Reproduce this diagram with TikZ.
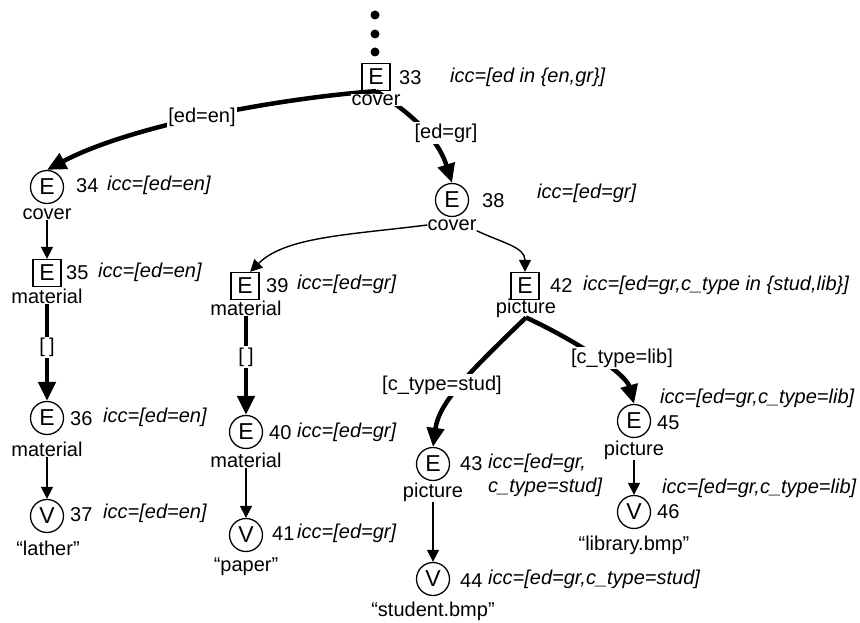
\documentclass[tikz,border=0pt]{standalone}
\usepackage{fontspec}
\setmainfont{Liberation Sans}
\usetikzlibrary{arrows.meta,backgrounds}
\begin{document}
\begin{tikzpicture}[x=1pt,y=-1pt,
  every node/.style={inner sep=0pt},
  glyph/.style={font=\fontsize{23}{26}\selectfont},
  ebox/.style={glyph, draw, line width=1.3pt, minimum width=28pt, minimum height=27pt},
  ecirc/.style={glyph, draw, circle, line width=1.3pt, minimum size=33pt},
  lbl/.style={font=\fontsize{20}{24}\selectfont},
  num/.style={lbl, anchor=west},
  icc/.style={font=\fontsize{20}{24}\selectfont\itshape, anchor=west, align=left},
  guard/.style={lbl, fill=white, inner sep=1.5pt},
  boldedge/.style={line width=4.5pt, -{Triangle[length=19pt,width=17pt]}},
  fineedge/.style={line width=1.4pt, -{Triangle[length=12pt,width=12pt]}},
  dot/.style={circle, fill=black, minimum size=9pt}
]
\useasboundingbox (0,0) rectangle (860,623);

% elided ancestors
\node[dot] (d1) at (375,15) {};
\node[dot] (d2) at (375,34) {};
\node[dot] (d3) at (375,52) {};

% node 33
\node[ebox] (n33) at (376,77) {E};
\node[num] (n33n) at (399,78) {33};
\node[icc] (n33i) at (450,77) {icc=[ed in \{en,gr\}]};
\node[lbl, fill=white, inner sep=1pt] (n33l) at (376,100) {cover};

% left branch
\node[ecirc] (n34) at (47,187) {E};
\node[num] (n34n) at (76,186) {34};
\node[icc] (n34i) at (107,185) {icc=[ed=en]};
\node[lbl] (n34l) at (47,214) {cover};

\node[ebox] (n35) at (47,273) {E};
\node[num] (n35n) at (66,273) {35};
\node[icc] (n35i) at (98,272) {icc=[ed=en]};
\node[lbl] (n35l) at (47,296) {material};

\node[ecirc] (n36) at (47,418) {E};
\node[num] (n36n) at (70,419) {36};
\node[icc] (n36i) at (103,417) {icc=[ed=en]};
\node[lbl] (n36l) at (47,449) {material};

\node[ecirc] (n37) at (47,516) {V};
\node[num] (n37n) at (70,515) {37};
\node[icc] (n37i) at (103,513) {icc=[ed=en]};
\node[lbl] (n37l) at (48,548) {“lather”};

% middle branch
\node[ecirc] (n38) at (452,200) {E};
\node[num] (n38n) at (482,201) {38};
\node[icc] (n38i) at (537,193) {icc=[ed=gr]};
\node[lbl] (n38l) at (452,225) {cover};

\node[ebox] (n39) at (245,286) {E};
\node[num] (n39n) at (266,286) {39};
\node[icc] (n39i) at (297,284) {icc=[ed=gr]};
\node[lbl] (n39l) at (246,308) {material};

\node[ecirc] (n40) at (246,432) {E};
\node[num] (n40n) at (269,433) {40};
\node[icc] (n40i) at (297,432) {icc=[ed=gr]};
\node[lbl] (n40l) at (246,460) {material};

\node[ecirc] (n41) at (246,535) {V};
\node[num] (n41n) at (272,534) {41};
\node[icc] (n41i) at (297,533) {icc=[ed=gr]};
\node[lbl] (n41l) at (246,567) {“paper”};

% picture branch
\node[ebox] (n42) at (525,286) {E};
\node[num] (n42n) at (550,286) {42};
\node[icc] (n42i) at (583,285) {icc=[ed=gr,c\_type in \{stud,lib\}]};
\node[lbl] (n42l) at (526,308) {picture};

\node[ecirc] (n43) at (433,464) {E};
\node[num] (n43n) at (460,464) {43};
\node[icc] (n43i) at (488,475) {icc=[ed=gr,\\c\_type=stud]};
\node[lbl] (n43l) at (433,492) {picture};

\node[ecirc] (n44) at (433,579) {V};
\node[num] (n44n) at (460,581) {44};
\node[icc] (n44i) at (488,579) {icc=[ed=gr,c\_type=stud]};
\node[lbl] (n44l) at (433,611) {“student.bmp”};

\node[ecirc] (n45) at (634,421) {E};
\node[num] (n45n) at (657,423) {45};
\node[icc] (n45i) at (660,398) {icc=[ed=gr,c\_type=lib]};
\node[lbl] (n45l) at (634,450) {picture};

\node[ecirc] (n46) at (634,512) {V};
\node[num] (n46n) at (657,512) {46};
\node[icc] (n46i) at (662,488) {icc=[ed=gr,c\_type=lib]};
\node[lbl] (n46l) at (634,545) {“library.bmp”};

% edge guards
\node[guard] (g1) at (202,117) {[ed=en]};
\node[guard] (g2) at (446,133) {[ed=gr]};
\node[guard] (g3) at (442,385) {[c\_type=stud]};
\node[guard] (g4) at (622,358) {[c\_type=lib]};

\begin{scope}[on background layer]
  \fill[white] (0,0) rectangle (860,623);
  % from 33
  \draw[boldedge] (n33.south) .. controls +(-96,7) and +(85,-45) .. (n34.north);
  \draw[boldedge] (n33.south) .. controls +(45,28) and +(-12,-38) .. (n38.north);
  % left column
  \draw[fineedge] (n34l.south) -- (n35.north);
  \draw[boldedge] (n35l.south) -- node[guard, pos=0.45] (g5) {[\hspace{4pt}]} (n36.north);
  \draw[fineedge] (n36l.south) -- (n37.north);
  % from 38
  \draw[fineedge] (n38l.west) .. controls +(-80,10) and +(35,-35) .. (n39.70);
  \draw[fineedge] (n38l.south east) .. controls +(25,12) and +(0,-25) .. (n42.north);
  % middle column
  \draw[boldedge] (n39l.south) -- node[guard, pos=0.42] (g6) {[\hspace{4pt}]} (n40.north);
  \draw[fineedge] (n40l.south) -- (n41.north);
  % from 42
  \draw[boldedge] (n42l.south) .. controls +(-56,54) and +(6,-45) .. (n43.north);
  \draw[boldedge] (n42l.south) .. controls +(50,23) and +(-8,-30) .. (n45.north);
  \draw[fineedge] (n43l.south) -- (n44.north);
  \draw[fineedge] (n45l.south) -- (n46.north);
\end{scope}
\end{tikzpicture}
\end{document}
